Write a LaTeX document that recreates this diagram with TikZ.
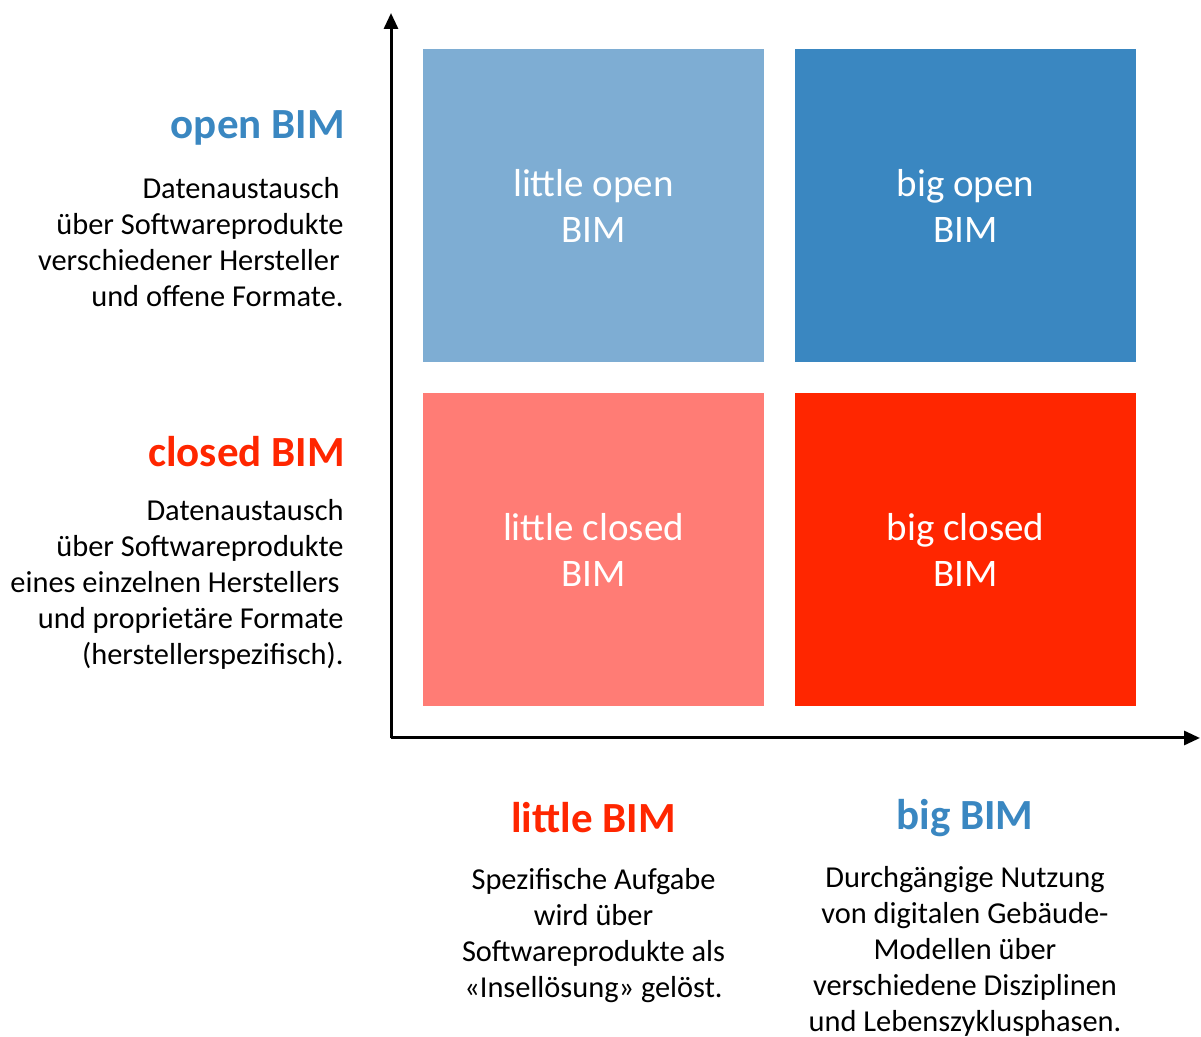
\documentclass[tikz,border=0pt]{standalone}
\usepackage{fontspec}
\setmainfont{Carlito}
\usetikzlibrary{positioning,arrows.meta}
\definecolor{lightblue}{HTML}{7EADD3}
\definecolor{darkblue}{HTML}{3A87C1}
\definecolor{lightred}{HTML}{FF7C75}
\definecolor{darkred}{HTML}{FF2600}

\begin{document}
\begin{tikzpicture}[x=0.5pt,y=-0.5pt,node distance=172pt and 186pt,on grid,
		field/.style={minimum width=170.5pt,minimum height=156.5pt,inner sep=0pt,
			text=white,align=center,font=\fontsize{19.5}{23}\selectfont},
		head/.style={inner sep=0pt,font=\fontsize{21.5}{25}\selectfont\bfseries},
		desc/.style={inner sep=0pt,font=\fontsize{15.2}{18}\selectfont}]
			\useasboundingbox (0,0) rectangle (1201,1037);
			\node[field, fill=lightblue] (little_open) at (593.5,206) {little open\\BIM};
			\node[field, fill=darkblue] (big_open) [right=of little_open] {big open\\BIM};
			\node[field, fill=lightred] (little_closed) [below=of little_open] {little closed\\BIM};
			\node[field, fill=darkred] (big_closed) [right=of little_closed] {big closed\\BIM};
			\coordinate (origin) at (391,738);
			\coordinate (y_top) at (391,13);
			\coordinate (x_end) at (1200,738);
			\draw[line width=1.5pt, -{Triangle[length=8pt,width=7pt]}] (origin) -- (y_top);
			\draw[line width=1.5pt, -{Triangle[length=8pt,width=7pt]}] (origin) -- (x_end);
			\node[head, anchor=east, text=darkblue] (open_head) at (345,128) {open BIM};
			\node[desc, anchor=east, align=right] (open_desc) at (344,242)
			{Datenaustausch\kern2pt\\über Softwareprodukte\\verschiedener Hersteller\kern2pt\\und offene Formate.};
			\node[head, anchor=east, text=darkred] (closed_head) at (345,452) {closed BIM};
			\node[desc, anchor=east, align=right] (closed_desc) at (344,584)
			{Datenaustausch\\über Softwareprodukte\\eines einzelnen Herstellers\kern2pt\\und proprietäre Formate\\(herstellerspezifisch).};
			\node[head, text=darkred] (little_head) at (593.5,818) {little BIM};
			\node[desc, align=center] (little_desc) at (593.5,936)
			{Spezifische Aufgabe\\wird über\\Softwareprodukte als\\«Insellösung» gelöst.};
			\node[head, text=darkblue] (big_head) at (965,818) {big BIM};
			\node[desc, align=center] (big_desc) at (965,951)
			{Durchgängige Nutzung\\von digitalen Gebäude-\\Modellen über\\verschiedene Disziplinen\\und Lebenszyklusphasen.};
		\end{tikzpicture}
\end{document}
